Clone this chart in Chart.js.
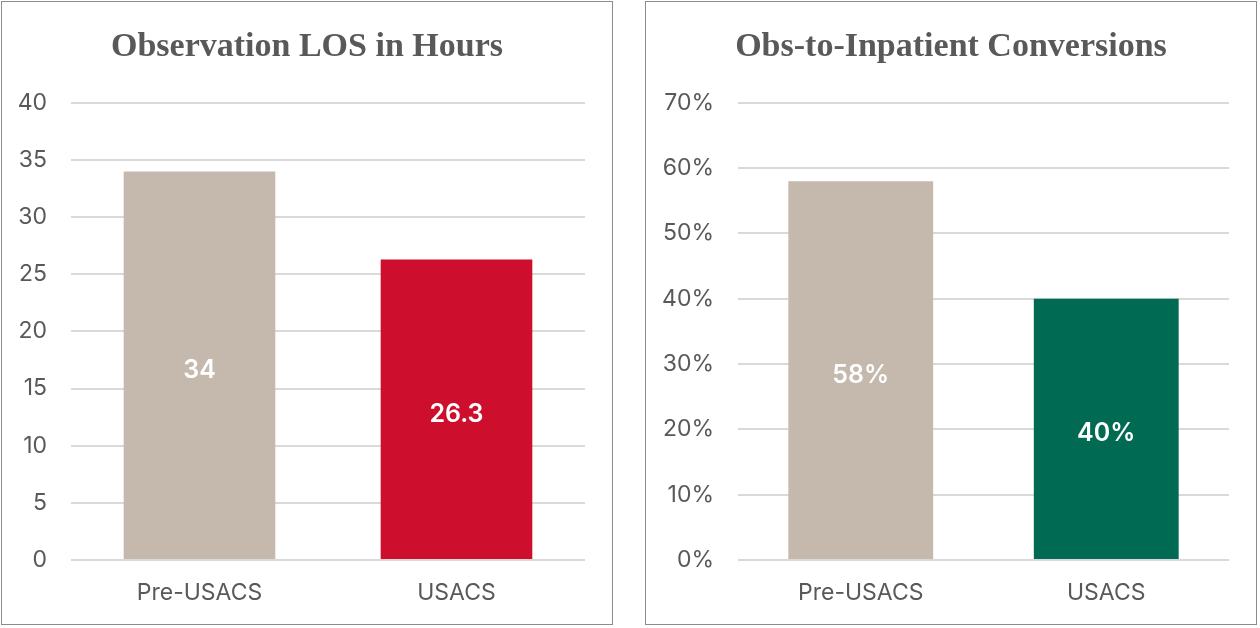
<!DOCTYPE html>
<html>
<head>
<meta charset="utf-8">
<script src="https://cdn.jsdelivr.net/npm/chart.js@4.4.0/dist/chart.umd.min.js"></script>
<style>
  body { margin: 0; background: #fff; width: 1260px; height: 628px; position: relative; }
  .panel { position: absolute; top: 1px; width: 610px; height: 622px; border: 1.5px solid #8c8c8c; }
  #p1 { left: 1px; }
  #p2 { left: 645px; }
  canvas { display: block; }
</style>
</head>
<body>
<div class="panel" id="p1"><canvas id="chart-los"></canvas></div>
<div class="panel" id="p2"><canvas id="chart-conv"></canvas></div>
<script>
const categories = ['Pre-USACS', 'USACS'];
const losHours = [34, 26.3];
const losTicks = [0, 5, 10, 15, 20, 25, 30, 35, 40];
const conversionPct = [58, 40];
const convTicks = [0, 10, 20, 30, 40, 50, 60, 70];

const TAN = '#c5b8ad';
const RED = '#ce0e2d';
const GREEN = '#006a52';
const TEXT = '#595959';

// white value labels in the middle of each bar
const midLabels = {
    id: 'midLabels',
    afterDatasetsDraw(chart, args, opts) {
        const ctx = chart.ctx;
        const meta = chart.getDatasetMeta(0);
        ctx.save();
        ctx.fillStyle = '#fff';
        ctx.font = '600 25px Inter';
        ctx.textAlign = 'center';
        ctx.textBaseline = 'middle';
        meta.data.forEach((bar, i) => {
            const v = chart.data.datasets[0].data[i];
            const y = (bar.y + bar.base) / 2 + 5;
            ctx.fillText(opts.fmt(v), bar.x, y);
        });
        ctx.restore();
    }
};

function makeChart(id, title, values, colors, ticks, fmt, yWidth) {
    const ctx = document.getElementById(id).getContext('2d');
    return new Chart(ctx, {
        type: 'bar',
        data: {
            labels: categories,
            datasets: [{ data: values, backgroundColor: colors, barPercentage: 0.59, categoryPercentage: 1 }]
        },
        options: {
            responsive: true,
            maintainAspectRatio: false,
            animation: false,
            layout: { padding: 0 },
            plugins: {
                legend: { display: false },
                tooltip: { enabled: false },
                title: {
                    display: true,
                    text: title,
                    color: TEXT,
                    font: { family: 'Liberation Serif', size: 34, weight: 'bold' },
                    padding: { top: 25, bottom: 35 }
                },
                midLabels: { fmt }
            },
            scales: {
                x: {
                    grid: { display: false },
                    border: { display: false },
                    ticks: { color: TEXT, font: { family: 'Inter', size: 23 }, padding: 11 },
                    afterFit(s) { s.height = 64; }
                },
                y: {
                    min: ticks[0],
                    max: ticks[ticks.length - 1],
                    afterBuildTicks(s) { s.ticks = ticks.map(v => ({ value: v })); },
                    grid: { color: '#d9d9d9', lineWidth: 2, drawTicks: false },
                    border: { display: false },
                    ticks: { color: TEXT, font: { family: 'Inter', size: 23 }, padding: 24, callback: v => fmt(v) },
                    afterFit(s) { s.width = yWidth; }
                },
                // empty right-hand scale: keeps a gap after the plot without off-centring the title
                gap: {
                    type: 'linear',
                    position: 'right',
                    grid: { display: false },
                    border: { display: false },
                    ticks: { display: false },
                    afterFit(s) { s.width = 27; }
                }
            }
        },
        plugins: [midLabels]
    });
}

makeChart('chart-los', 'Observation LOS in Hours', losHours, [TAN, RED], losTicks, v => String(v), 69);
makeChart('chart-conv', 'Obs-to-Inpatient Conversions', conversionPct, [TAN, GREEN], convTicks, v => v + '%', 92);
</script>
</body>
</html>
